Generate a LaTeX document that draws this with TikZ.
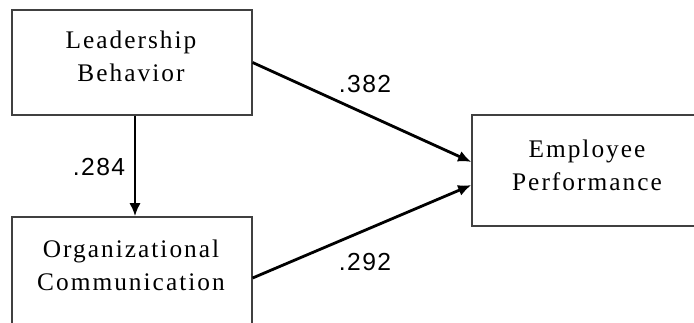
\documentclass[tikz,border=0pt]{standalone}
\usepackage{fontspec}
\setmainfont{Liberation Serif}
\newfontfamily\boxfont[LetterSpace=8]{Liberation Serif}
\newfontfamily\numfont[LetterSpace=6]{Liberation Sans}
\usetikzlibrary{arrows.meta}

\tikzset{
    box/.style={draw=black!75, line width=0.9pt, minimum width=180pt},
    boxtext/.style={align=center, font=\boxfont\fontsize{19}{24.5}\selectfont},
    coef/.style={font=\numfont\fontsize{18.5}{20}\selectfont},
    path/.style={line width=2.1pt, -{Latex[length=10pt,width=8.5pt]}}
}

\begin{document}
\begin{tikzpicture}[x=0.75pt, y=-0.75pt]
        \clip (0, 0) rectangle (694, 322);
        
        % Boxes
        \node[box, minimum height=78.75pt] (lead) at (132, 62.5) {};
        \node[box, minimum height=82.5pt] (comm) at (132, 272) {};
        \node[box, minimum width=171pt, minimum height=83.25pt] (perf) at (586, 170.5) {};
        
        % Texts
        \node[boxtext] (leadtxt) at (131, 56) {Leadership\\Behavior};
        \node[boxtext] (commtxt) at (131, 265) {Organizational\\Communication};
        \node[boxtext] (perftxt) at (587, 165) {Employee\\Performance};
        
        % Paths
        \draw[path] ([xshift=2.25pt]lead.south) -- ([xshift=2.25pt]comm.north);
        \draw[path] (lead.east) -- ([yshift=6.4pt]perf.west);
        \draw[path] ([yshift=-4.5pt]comm.east) -- ([yshift=-10.9pt]perf.west);
        
        % Coefficients
        \node[coef] (c1) at (99, 167) {.284};
        \node[coef] (c2) at (365, 84) {.382};
        \node[coef] (c3) at (365, 262) {.292};
    \end{tikzpicture}
\end{document}
